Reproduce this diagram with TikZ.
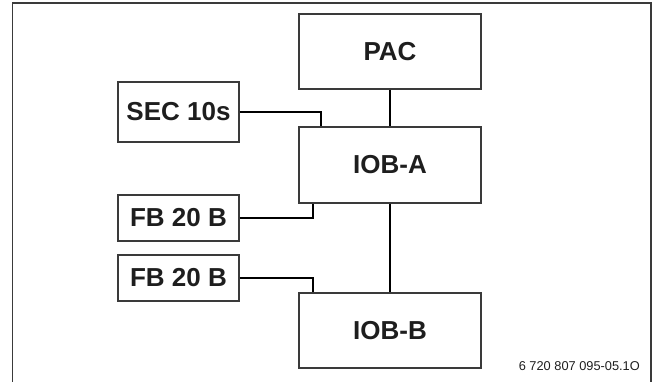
\documentclass[tikz,border=0pt]{standalone}
\usepackage{fontspec}
\setmainfont{Liberation Sans}
\usepackage{tikz}

\definecolor{boxline}{HTML}{3A3A3A}
\definecolor{inktext}{HTML}{1E1E1E}

\tikzset{
	unit/.style={draw=boxline, line width=1.1pt, text=inktext, inner sep=0pt,
		font=\bfseries\fontsize{26}{31}\selectfont},
	wire/.style={line width=2pt, black}
}

\begin{document}
\begin{tikzpicture}[x=1pt, y=-1pt]
\useasboundingbox (0,0) rectangle (656,382);
\draw[line width=1.4pt, boxline] (12.5,382) -- (12.5,3) -- (651,3) -- (651,382);

\path (390,51.5) node[unit, minimum width=182pt, minimum height=75pt] (pac) {PAC}
		(390,165) node[unit, minimum width=182pt, minimum height=76pt] (ioba) {IOB-A}
		(390,330.5) node[unit, minimum width=182pt, minimum height=75pt] (iobb) {IOB-B}
		(178.5,112) node[unit, minimum width=121pt, minimum height=60pt] (sec) {SEC 10s}
		(178.5,218) node[unit, minimum width=121pt, minimum height=46pt] (fba) {FB 20 B}
		(178.5,278) node[unit, minimum width=121pt, minimum height=46pt] (fbb) {FB 20 B}
		(640,366) node[anchor=east, inner sep=0pt, text=inktext,
			font=\fontsize{12.8}{15}\selectfont] (docnum) {6 720 807 095-05.1O}
		;

\draw[wire]	(pac) -- (ioba);
\draw[wire]	(ioba) -- (iobb);
\draw[wire]	(sec.east) -| ([xshift=23pt]ioba.north west);
\draw[wire]	(fba.east) -| ([xshift=15pt]ioba.south west);
\draw[wire]	(fbb.east) -| ([xshift=15pt]iobb.north west);
\end{tikzpicture}
\end{document}
